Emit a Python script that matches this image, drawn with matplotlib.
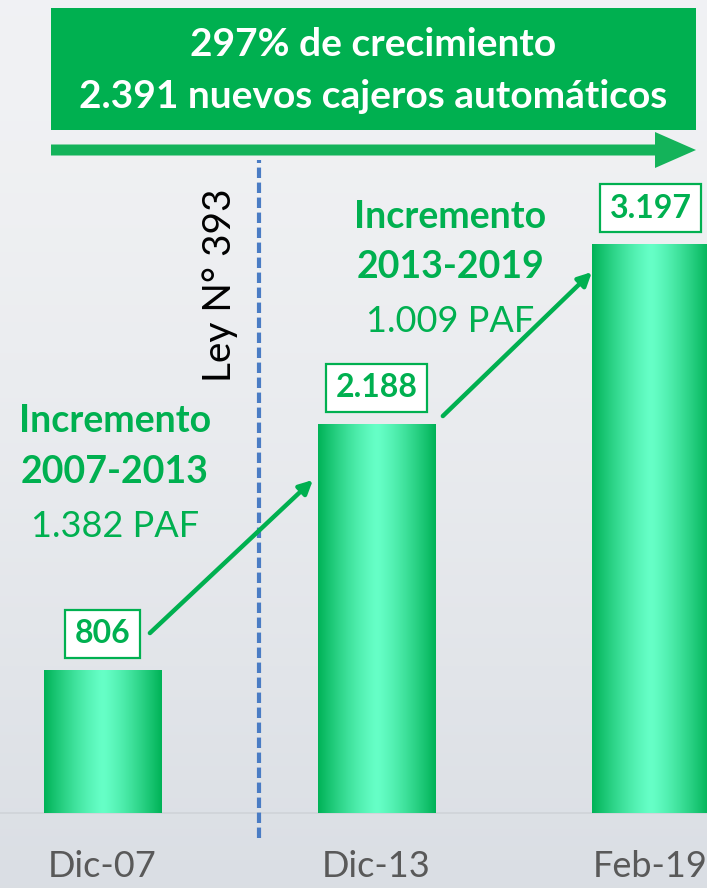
import numpy as np
import matplotlib
matplotlib.use("Agg")
import matplotlib.pyplot as plt
from matplotlib.patches import Rectangle, FancyArrow

# data
periods = ["Dic-07", "Dic-13", "Feb-19"]
cajeros = [806, 2188, 3197]
value_labels = ["806", "2.188", "3.197"]
tramos = ["2007-2013", "2013-2019"]
incrementos = ["1.382 PAF", "1.009 PAF"]
titulo = ["297% de crecimiento", "2.391 nuevos cajeros automáticos"]
ley = "Ley N° 393"

GREEN = "#00b050"
W, H = 707, 888

plt.rcParams['font.family'] = ['Lato', 'DejaVu Sans']

fig = plt.figure(figsize=(W / 100, H / 100), dpi=100)
ax = fig.add_axes([0, 0, 1, 1])
ax.set_xlim(-0.374, 2.206)
ax.set_ylim(-421, 4567)
ax.axis("off")

# background gradient (light top, grayer bottom)
grad = np.linspace(0, 1, 256).reshape(-1, 1)
top = np.array([0.945, 0.949, 0.957])
bot = np.array([0.855, 0.871, 0.894])
bg = top + (bot - top) * grad[:, :, None] ** 1.5
ax.imshow(bg, extent=[-0.374, 2.206, -421, 4567], aspect="auto",
          origin="upper", zorder=0)

# baseline
ax.axhline(0, color="#cfd3d8", lw=1.2, zorder=1)

# bars with horizontal gradient
x = np.arange(len(periods))
bars = ax.bar(x, cajeros, width=0.427, color="none", zorder=2)
row = np.abs(np.linspace(-1, 1, 200))
edge = np.array([0.0, 0.70, 0.34])
mid = np.array([0.40, 1.0, 0.78])
colgrad = mid + (edge - mid) * (row ** 1.3)[:, None]
img = colgrad[None, :, :]
for b in bars:
    x0, y0 = b.get_x(), b.get_y()
    im = ax.imshow(img, extent=[x0, x0 + b.get_width(), y0, y0 + b.get_height()],
                   aspect="auto", zorder=2)
    im.set_clip_path(b)

# value boxes
for xi, v, lab in zip(x, cajeros, value_labels):
    ax.text(xi, v + 200, lab, ha="center", va="center",
            fontsize=23, fontweight="bold", color=GREEN, zorder=4,
            bbox=dict(boxstyle="square,pad=0.3", fc="white", ec=GREEN, lw=1.6))

# category labels
for xi, p in zip(x, periods):
    ax.text(xi, -300, p, ha="center", va="center", fontsize=26,
            color="#595959", zorder=4)

# Ley 393 dashed line
ax.plot([0.571, 0.571], [-140, 3669], ls=(0, (2.5, 1.1)), lw=3,
        color="#4a7cc4", zorder=3)
ax.text(0.429, 2966, ley, rotation=90, ha="center", va="center",
        fontsize=28, color="black", zorder=4)

# increment annotations
ann_pos = [(0.045, 2200), (1.27, 3350)]
for (ax_, ay), tr, inc in zip(ann_pos, tramos, incrementos):
    ax.text(ax_, ay, "Incremento", ha="center", va="center", fontsize=27,
            fontweight="bold", color=GREEN, zorder=4)
    ax.text(ax_, ay - 285, tr, ha="center", va="center", fontsize=27,
            fontweight="bold", color=GREEN, zorder=4)
    ax.text(ax_, ay - 590, inc, ha="center", va="center", fontsize=26,
            color=GREEN, zorder=4)

# growth arrows
arrows = [((0.173, 1011), (0.768, 1871)), ((1.242, 2230), (1.786, 3039))]
for (sx, sy), (ex, ey) in arrows:
    ax.annotate("", xy=(ex, ey), xytext=(sx, sy),
                arrowprops=dict(arrowstyle="-|>,head_length=0.8,head_width=0.4",
                                color=GREEN, lw=3.2, shrinkA=0, shrinkB=0),
                zorder=4)

# banner
def fx(px):
    return px / W

def fy(py):
    return 1 - py / H

fig.patches.append(Rectangle((fx(51), fy(130)), fx(696) - fx(51), fy(8) - fy(130),
                             transform=fig.transFigure, fc=GREEN, ec="none",
                             zorder=5))
fig.text(fx(373), fy(45), titulo[0], ha="center", va="center", fontsize=28,
         fontweight="bold", color="white", zorder=6)
fig.text(fx(373), fy(96), titulo[1], ha="center", va="center", fontsize=28,
         fontweight="bold", color="white", zorder=6)

# big horizontal arrow
fig.patches.append(FancyArrow(fx(51), fy(150), fx(696) - fx(51), 0,
                              width=11 / H, head_width=36 / H,
                              head_length=fx(41), length_includes_head=True,
                              transform=fig.transFigure, fc="#14b35a",
                              ec="none", zorder=5))

fig.savefig("out.png", dpi=100)
